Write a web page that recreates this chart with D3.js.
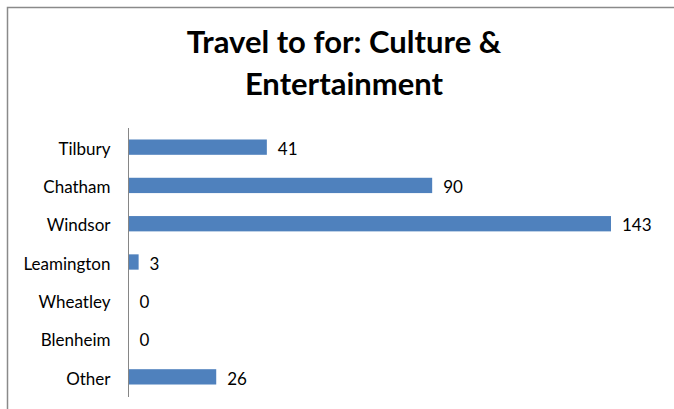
<!DOCTYPE html>
<html>
<head>
<meta charset="utf-8">
<script src="https://cdn.jsdelivr.net/npm/d3@7"></script>
<style>
  html, body { margin: 0; padding: 0; background: #fff; }
  svg { display: block; }
  text { font-family: Lato, "Open Sans", sans-serif; }
</style>
</head>
<body>
<svg id="chart" width="674" height="409"></svg>
<script>
// Survey responses: where people travel for culture & entertainment
const categories = ["Tilbury", "Chatham", "Windsor", "Leamington", "Wheatley", "Blenheim", "Other"];
const counts = [41, 90, 143, 3, 0, 0, 26];
const titleLines = ["Travel to for: Culture &", "Entertainment"];

const svg = d3.select("#chart");
const W = 674, H = 409;

// chart frame (left and top edges visible)
svg.append("path")
  .attr("d", `M7.5,${H} L7.5,7.5 L${W},7.5`)
  .attr("fill", "none")
  .attr("stroke", "#8a8a8a")
  .attr("stroke-width", 1.5);

// title
svg.append("g")
  .selectAll("text")
  .data(titleLines)
  .join("text")
  .attr("x", 344)
  .attr("y", (d, i) => 53 + i * 42)
  .attr("text-anchor", "middle")
  .attr("font-size", 31)
  .attr("font-weight", "bold")
  .attr("fill", "#000")
  .text(d => d);

const x0 = 128.5;
const x = d3.scaleLinear().domain([0, 143]).range([x0, 611]);
const y = d3.scaleBand().domain(categories).range([128, 396]).paddingInner(0.6).paddingOuter(0.3);

// bars
svg.append("g")
  .selectAll("rect")
  .data(categories)
  .join("rect")
  .attr("x", x(0))
  .attr("y", d => y(d))
  .attr("width", (d, i) => x(counts[i]) - x(0))
  .attr("height", y.bandwidth())
  .attr("fill", "#4F81BD");

// category axis
const axis = svg.append("g").attr("transform", `translate(${x0},0)`)
  .call(d3.axisLeft(y).tickSize(0).tickPadding(18));
axis.select(".domain").attr("stroke", "#868686").attr("stroke-width", 1)
  .attr("d", "M0,128V397");
axis.selectAll(".tick text")
  .attr("font-size", 17)
  .attr("font-family", "Lato, sans-serif")
  .attr("fill", "#000")
  .attr("dy", "0.45em");

// value labels
svg.append("g")
  .selectAll("text")
  .data(categories)
  .join("text")
  .attr("x", (d, i) => x(counts[i]) + 11)
  .attr("y", d => y(d) + y.bandwidth() / 2)
  .attr("dy", "0.45em")
  .attr("font-size", 17)
  .attr("fill", "#000")
  .text((d, i) => counts[i]);
</script>
</body>
</html>
